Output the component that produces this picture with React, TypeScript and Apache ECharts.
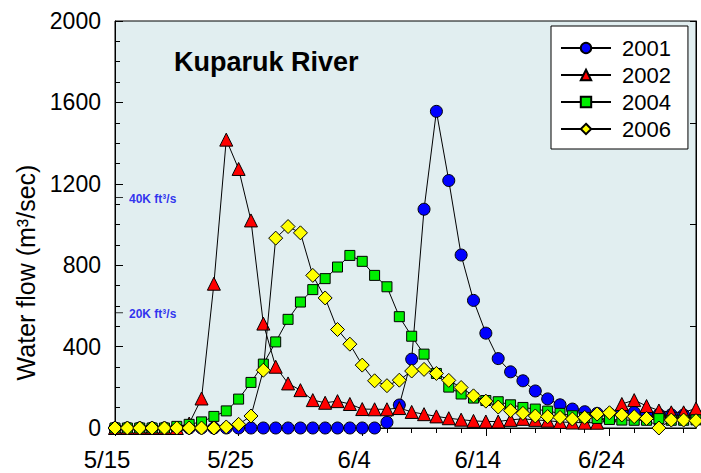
import React, { useEffect, useRef } from "react";
import * as echarts from "echarts";

// Daily categories from 5/15 through 7/1
const firstDay = new Date(2001, 4, 15);
const dayCount = 48;
const days: string[] = [];
for (let i = 0; i < dayCount; i++) {
  const d = new Date(firstDay.getFullYear(), firstDay.getMonth(), firstDay.getDate() + i);
  days.push(`${d.getMonth() + 1}/${d.getDate()}`);
}

// Dates that carry a label on the x axis
const tickLabels = ["5/15", "5/25", "6/4", "6/14", "6/24"];

// Daily discharge, m³/s
const flow2001 = [
  0, 0, 0, 0, 0, 0, 0, 0, 0, 0, 0, 0, 0, 0, 0, 0, 0, 0, 0, 0, 0, 0,
  28, 113, 338, 1075, 1556, 1216, 850, 627, 466, 341, 276, 232, 182, 143,
  114, 93, 80, 72, 70, 80, 77, 69, 66, 65, 64, 64,
];
const flow2002 = [
  0, 0, 0, 0, 0, 0,
  22, 145, 709, 1417, 1273, 1020, 513, 301, 219, 186, 137, 124, 132, 118,
  93, 92, 92, 98, 79, 68, 57, 48, 41, 35, 32, 32, 40, 45, 40, 36, 30, 27,
  26, 26, 62, 118, 137, 108, 86, 77, 77, 96,
];
const flow2004 = [
  0, 0, 0, 0, 0,
  8, 18, 30, 57, 84, 142, 224, 314, 423, 534, 619, 680, 734, 791, 848, 819,
  750, 694, 547, 451, 363, 268, 201, 167, 147, 135, 129, 114, 101, 93, 83,
  72, 60, 52, 47, 42, 39, 38, 38, 46, 38, 38, 40,
];
const flow2006 = [
  0, 0, 0, 0, 0, 0, 0, 0, 0,
  5, 18, 59, 284, 933, 990, 959, 750, 639, 484, 412, 309, 232, 208, 235,
  280, 288, 268, 234, 199, 158, 132, 103, 85, 72, 59, 56, 52, 44, 52, 69,
  75, 64, 56, 47, 0, 39, 39, 36,
];

// Reference discharges in ft³/s, marked on the left axis
const cfsMarks = [40000, 20000];
const cfsLabels = ["40K ft³/s", "20K ft³/s"];
const CFS_TO_CMS = 0.0283168;

const FONT = "'Liberation Sans', Arial, Helvetica, sans-serif";

const years = ["2001", "2002", "2004", "2006"];
const flows = [flow2001, flow2002, flow2004, flow2006];
const colors = ["#0000ff", "#ff0000", "#00ee00", "#ffff00"];
const symbols = ["circle", "triangle", "rect", "diamond"];
const symbolSizes = [12, 13, 10, 14];

export default function App() {
  const ref = useRef<HTMLDivElement>(null);

  useEffect(() => {
    document.body.style.margin = "0";
    if (!ref.current) return;
    const chart = echarts.init(ref.current, undefined, { renderer: "svg" });

    const lineSeries = years.map((year, k) => ({
      name: year,
      type: "line",
      data: flows[k],
      symbol: symbols[k],
      symbolSize: symbolSizes[k],
      showAllSymbol: true,
      lineStyle: { color: "#000", width: 1 },
      itemStyle: { color: colors[k], borderColor: "#000", borderWidth: 1 },
      emphasis: { disabled: true },
      z: 3 + k,
    }));

    chart.setOption({
      animation: false,
      textStyle: { fontFamily: FONT },
      title: {
        text: "Kuparuk River",
        left: 174,
        top: 48,
        padding: 0,
        textStyle: { fontFamily: FONT, fontSize: 27, fontWeight: "bold", color: "#000" },
      },
      legend: {
        data: years,
        orient: "vertical",
        left: 551,
        top: 26,
        backgroundColor: "#fff",
        borderColor: "#000",
        borderWidth: 1,
        borderRadius: 0,
        padding: [11, 17, 9, 9],
        itemWidth: 50,
        itemHeight: 13,
        itemGap: 5,
        selectedMode: false,
        textStyle: { fontFamily: FONT, fontSize: 22, color: "#000", padding: [0, 0, 0, 6] },
      },
      grid: {
        left: 115,
        right: 5,
        top: 21,
        bottom: 45,
        show: true,
        backgroundColor: "#e1eef0",
        borderColor: "#000",
        borderWidth: 1,
      },
      xAxis: [
        {
          type: "category",
          data: days,
          boundaryGap: false,
          axisLine: { lineStyle: { color: "#000", width: 1 } },
          axisTick: { show: true, length: 5, interval: (i: number) => i % 2 === 0, lineStyle: { color: "#000" } },
          axisLabel: {
            interval: (i: number) => tickLabels.includes(days[i]),
            fontFamily: FONT,
            fontSize: 24,
            color: "#000",
            margin: 19,
            padding: [0, 16, 0, 0],
          },
          splitLine: { show: false },
        },
        {
          type: "category",
          data: days,
          boundaryGap: false,
          position: "bottom",
          axisLine: { show: false },
          axisTick: { show: true, length: 8, interval: (i: number) => tickLabels.includes(days[i]), lineStyle: { color: "#000" } },
          axisLabel: { show: false },
          splitLine: { show: false },
        },
      ],
      yAxis: [
        {
          type: "value",
          min: 0,
          max: 2000,
          interval: 400,
          name: "Water flow (m³/sec)",
          nameLocation: "middle",
          nameGap: 72,
          nameTextStyle: { fontFamily: FONT, fontSize: 25, color: "#000", padding: [0, 96, 0, 0] },
          axisLine: { show: true, lineStyle: { color: "#000", width: 1 } },
          axisTick: { show: true, inside: true, length: 8, lineStyle: { color: "#000" } },
          minorTick: { show: true, splitNumber: 4, length: 5, lineStyle: { color: "#000" } },
          axisLabel: {
            fontFamily: FONT,
            fontSize: 23,
            color: "#000",
            margin: 14,
            formatter: (v: number) => String(v),
          },
          splitLine: { show: false },
          minorSplitLine: { show: false },
        },
        {
          type: "value",
          position: "right",
          min: 0,
          max: 2000,
          interval: 500,
          axisLine: { show: true, lineStyle: { color: "#000", width: 1 } },
          axisTick: { show: true, inside: true, length: 6, lineStyle: { color: "#000" } },
          axisLabel: { show: false },
          splitLine: { show: false },
        },
      ],
      series: [
        ...lineSeries,
        {
          name: "cfs",
          type: "scatter",
          data: cfsMarks.map((c, i) => ({
            value: [0, c * CFS_TO_CMS],
            label: { formatter: cfsLabels[i] },
          })),
          symbol: "rect",
          symbolSize: [8, 1],
          symbolOffset: [4, 0],
          itemStyle: { color: "#000" },
          label: {
            show: true,
            position: "right",
            distance: 6,
            offset: [0, 1],
            fontFamily: FONT,
            fontSize: 12,
            fontWeight: "bold",
            color: "#0000ee",
          },
          emphasis: { disabled: true },
          silent: true,
          z: 2,
        },
      ],
    });

    return () => chart.dispose();
  }, []);

  return <div ref={ref} style={{ width: 701, height: 473 }} />;
}
